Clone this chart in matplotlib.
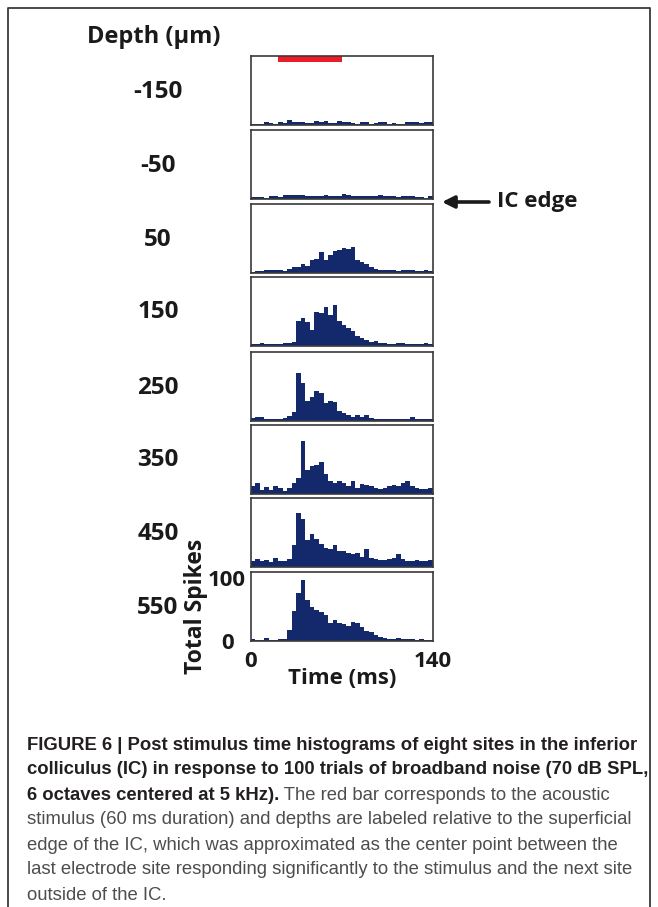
import numpy as np
import matplotlib
matplotlib.use('Agg')
import matplotlib.pyplot as plt
from matplotlib import font_manager

# PSTH counts per 3.5 ms bin, 0-140 ms
depths = ['-150', '-50', '50', '150', '250', '350', '450', '550']
t_max = 140
n_bins = 40
stim_on, stim_off = 21, 70

psth_m150 = [2, 2, 2, 4, 3, 2, 4, 3, 8, 5, 4, 4, 3, 3, 6, 4, 6, 3, 3, 7,
             5, 4, 3, 2, 4, 4, 2, 3, 4, 4, 2, 3, 1, 1, 4, 5, 5, 3, 5, 4]
psth_m50 = [3, 3, 3, 1, 4, 4, 3, 6, 7, 7, 7, 6, 5, 5, 5, 5, 6, 5, 5, 5,
            8, 6, 5, 5, 4, 4, 4, 5, 6, 4, 4, 4, 3, 5, 5, 4, 3, 3, 2, 5]
psth_50 = [2, 3, 3, 4, 4, 5, 5, 3, 6, 9, 10, 15, 11, 21, 23, 34, 20, 28, 35, 36,
           40, 38, 42, 20, 17, 15, 9, 7, 5, 5, 4, 4, 3, 4, 4, 4, 3, 3, 5, 3]
psth_150 = [3, 3, 5, 3, 3, 3, 3, 5, 5, 6, 40, 44, 39, 26, 55, 52, 62, 49, 66, 40,
            33, 29, 24, 16, 12, 10, 6, 8, 4, 4, 3, 3, 4, 4, 3, 3, 3, 3, 5, 3]
psth_250 = [4, 6, 6, 3, 3, 3, 3, 4, 8, 15, 77, 60, 32, 38, 48, 45, 28, 32, 30, 16,
            12, 10, 7, 10, 6, 10, 5, 3, 3, 3, 3, 3, 3, 3, 3, 6, 3, 3, 3, 3]
psth_350 = [12, 17, 6, 11, 6, 12, 9, 5, 10, 18, 26, 84, 38, 45, 47, 51, 32, 21, 18, 20,
            17, 12, 20, 10, 16, 14, 12, 10, 8, 9, 12, 15, 12, 18, 21, 12, 9, 8, 8, 10]
psth_450 = [9, 13, 9, 11, 8, 14, 9, 9, 12, 35, 86, 76, 43, 52, 45, 37, 30, 28, 35, 25,
            26, 22, 20, 23, 16, 28, 14, 13, 11, 11, 12, 15, 21, 12, 10, 9, 11, 10, 9, 11]
psth_550 = [3, 2, 2, 5, 2, 2, 3, 3, 18, 48, 76, 98, 65, 55, 49, 47, 41, 28, 33, 28,
            27, 24, 30, 29, 23, 16, 15, 9, 6, 4, 3, 3, 4, 3, 3, 3, 2, 3, 2, 2]

psths = [psth_m150, psth_m50, psth_50, psth_150, psth_250, psth_350, psth_450, psth_550]

W, H = 658, 907
bar_color = '#13296b'
ink = '#1a1a1a'
label_font = ['Open Sans', 'DejaVu Sans']
names = {f.name for f in font_manager.fontManager.ttflist}
cap_font = 'Liberation Sans Narrow' if 'Liberation Sans Narrow' in names else 'Liberation Sans'

fig = plt.figure(figsize=(W / 100, H / 100), dpi=100)


def px_axes(x0, y0, w, h):
    return fig.add_axes([x0 / W, 1 - (y0 + h) / H, w / W, h / H])


# overlay in pixel coords for labels / frame
over = fig.add_axes([0, 0, 1, 1], zorder=5)
over.set_xlim(0, W)
over.set_ylim(H, 0)
over.axis('off')
over.patch.set_alpha(0)

# frame
over.plot([8, 8, 650, 650], [H + 5, 8, 8, H + 5], color='#3a3a3a', lw=1.3, clip_on=False)

edges = np.linspace(0, t_max, n_bins + 1)
panel_tops = [56, 130, 204, 277, 352, 425, 498, 572]
panel_x0, panel_w, panel_h = 250.7, 182, 69

axes = []
for i, (d, counts) in enumerate(zip(depths, psths)):
    ax = px_axes(panel_x0, panel_tops[i], panel_w, panel_h)
    ax.stairs(counts, edges, fill=True, color=bar_color, baseline=0)
    ax.set_xlim(0, t_max)
    ax.set_ylim(0, 110)
    for s in ax.spines.values():
        s.set_color('#3a3a3a')
        s.set_linewidth(1.2)
    ax.tick_params(length=0)
    ax.set_xticks([])
    ax.set_yticks([])
    over.text(158, panel_tops[i] + panel_h / 2 + 1, d, ha='center', va='center',
              fontsize=17.5, fontweight='bold', family=label_font, color=ink)
    axes.append(ax)

# stimulus bar on the top panel
axes[0].fill_between([stim_on, stim_off], 101, 110, color='#ee1c24', lw=0, clip_on=False)

# bottom panel axis labels
ax = axes[-1]
ax.set_xticks([0, t_max])
ax.set_xticklabels(['0', '140'], fontsize=16, fontweight='bold', family=label_font, color=ink)
ax.set_yticks([0, 100])
ax.set_yticklabels(['0', '100'], fontsize=16, fontweight='bold', family=label_font, color=ink)
for lab in ax.get_yticklabels():
    lab.set_ha('center')
ax.tick_params(axis='x', pad=7)
ax.tick_params(axis='y', pad=17)
over.text(342, 679, 'Time (ms)', ha='center', va='center', fontsize=16,
          fontweight='bold', family=label_font, color=ink)
over.text(196, 606, 'Total Spikes', ha='center', va='center', rotation=90, fontsize=16.5,
          fontweight='bold', family=label_font, color=ink)

over.text(154, 37, 'Depth (µm)', ha='center', va='center', fontsize=17,
          fontweight='bold', family=label_font, color=ink)

# IC edge marker
over.annotate('', xy=(442, 202), xytext=(489, 202),
              arrowprops=dict(arrowstyle='-|>', lw=2.6, color=ink, mutation_scale=18,
                              shrinkA=0, shrinkB=0))
over.text(497, 201, 'IC edge', ha='left', va='center', fontsize=16,
          fontweight='bold', family=label_font, color=ink)

# caption
bold_c, reg_c = '#231f20', '#4d4d4d'
cap_fs = 13.3
lines_bold = [
    'FIGURE 6 | Post stimulus time histograms of eight sites in the inferior',
    'colliculus (IC) in response to 100 trials of broadband noise (70 dB SPL,',
    '6 octaves centered at 5 kHz).',
]
lines_reg = [
    'stimulus (60 ms duration) and depths are labeled relative to the superficial',
    'edge of the IC, which was approximated as the center point between the',
    'last electrode site responding significantly to the stimulus and the next site',
    'outside of the IC.',
]
y0, dy = 745, 25
for k, s in enumerate(lines_bold):
    t = over.text(27, y0 + k * dy, s, ha='left', va='center', fontsize=cap_fs,
                  fontweight='bold', family=cap_font, color=bold_c)
over.annotate(' The red bar corresponds to the acoustic', xy=(1, 0), xycoords=t,
              ha='left', va='bottom', fontsize=cap_fs, family=cap_font, color=reg_c)
for k, s in enumerate(lines_reg):
    over.text(27, y0 + (k + 3) * dy, s, ha='left', va='center', fontsize=cap_fs,
              family=cap_font, color=reg_c)

fig.savefig('out.png', dpi=100)
